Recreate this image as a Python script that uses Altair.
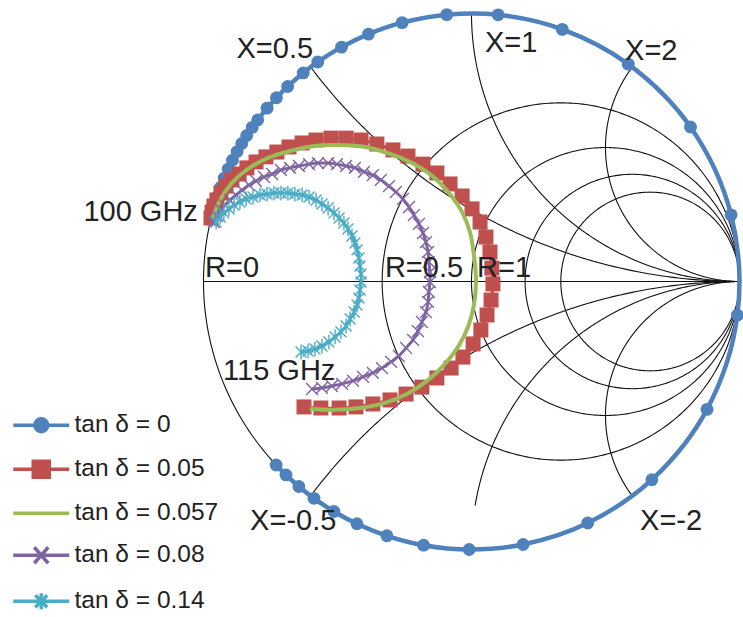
import altair as alt
import numpy as np
import pandas as pd

# ---------------- Smith chart grid (normalised impedance values) ----------------
R_CIRCLES = [0, 0.5, 1, 1.5, 2]
X_ARCS = [0.5, 1, 2, -0.5, -1, -2]
X_ARC_RMIN = [0, 0, 0, 0, 0.18, 0]

# ---------------- series ----------------
SERIES = ["tan δ = 0", "tan δ = 0.05", "tan δ = 0.057", "tan δ = 0.08", "tan δ = 0.14"]
COLORS = ["#4F81BD", "#C0504D", "#9BBB59", "#8064A2", "#4BACC6"]

# tan δ = 0 (lossless): |Γ| = 1, angle of Γ in degrees, 100 GHz -> 115 GHz
BLUE_ANGLE = [165.7, 163.6, 161.5, 159.4, 157.3, 155.2, 153.1, 151.0, 149.0, 147.0,
              144.9, 142.9, 139.7, 136.7, 133.3, 128.9, 125.0, 119.0, 112.6, 105.0,
              95.3, 84.3, 70.2, 54.2, 35.2, 14.4, -7.2, -28.5, -47.7, -64.3,
              -78.9, -90.5, -100.3, -108.4, -115.3, -120.9, -126.0, -130.1, -133.8, -136.8]

RED_RE = [-0.972, -0.968, -0.961, -0.950, -0.935, -0.916, -0.894, -0.867, -0.838, -0.804,
          -0.767, -0.726, -0.681, -0.632, -0.580, -0.524, -0.468, -0.412, -0.353, -0.293,
          -0.237, -0.181, -0.129, -0.080, -0.035, 0.002, 0.032, 0.054, 0.069, 0.076,
          0.080, 0.073, 0.058, 0.035, 0.006, -0.032, -0.076, -0.129, -0.185, -0.244,
          -0.304, -0.368, -0.431, -0.494, -0.562, -0.625]
RED_IM = [0.237, 0.259, 0.282, 0.304, 0.330, 0.356, 0.379, 0.401, 0.424, 0.446,
          0.465, 0.483, 0.502, 0.517, 0.528, 0.535, 0.535, 0.528, 0.513, 0.491,
          0.468, 0.438, 0.405, 0.364, 0.319, 0.271, 0.222, 0.166, 0.110, 0.050,
          -0.009, -0.069, -0.125, -0.181, -0.233, -0.282, -0.323, -0.360, -0.394, -0.420,
          -0.442, -0.457, -0.468, -0.472, -0.472, -0.468]

GREEN_RE = [-0.968, -0.938, -0.894, -0.834, -0.759, -0.677, -0.584, -0.491, -0.397, -0.304,
            -0.222, -0.147, -0.084, -0.035, -0.006, 0.009, 0.017, 0.009, -0.013, -0.050,
            -0.103, -0.166, -0.241, -0.323, -0.416, -0.509, -0.603]
GREEN_IM = [0.229, 0.304, 0.368, 0.420, 0.461, 0.487, 0.506, 0.509, 0.502, 0.476,
            0.442, 0.394, 0.330, 0.259, 0.185, 0.099, -0.002, -0.088, -0.170, -0.244,
            -0.312, -0.371, -0.420, -0.453, -0.472, -0.479, -0.476]

PURPLE_RE = [-0.961, -0.950, -0.935, -0.920, -0.901, -0.879, -0.856, -0.830, -0.804, -0.774,
             -0.744, -0.711, -0.677, -0.644, -0.606, -0.573, -0.535, -0.502, -0.468, -0.435,
             -0.401, -0.368, -0.338, -0.308, -0.282, -0.256, -0.233, -0.215, -0.196, -0.181,
             -0.170, -0.162, -0.159, -0.155, -0.155, -0.159, -0.162, -0.170, -0.185, -0.200,
             -0.218, -0.244, -0.271, -0.300, -0.334, -0.368, -0.405, -0.442, -0.483, -0.521,
             -0.558, -0.595]
PURPLE_IM = [0.222, 0.244, 0.267, 0.285, 0.304, 0.323, 0.341, 0.360, 0.375, 0.390,
             0.401, 0.416, 0.424, 0.431, 0.438, 0.442, 0.442, 0.438, 0.431, 0.424,
             0.409, 0.397, 0.379, 0.356, 0.334, 0.308, 0.278, 0.248, 0.215, 0.181,
             0.147, 0.110, 0.073, 0.035, -0.002, -0.039, -0.076, -0.114, -0.151, -0.185,
             -0.218, -0.248, -0.278, -0.300, -0.323, -0.341, -0.356, -0.371, -0.382, -0.390,
             -0.397, -0.401]

CYAN_RE = [-0.953, -0.938, -0.924, -0.905, -0.886, -0.864, -0.841, -0.815, -0.789, -0.763,
           -0.737, -0.711, -0.685, -0.659, -0.632, -0.606, -0.580, -0.558, -0.535, -0.513,
           -0.494, -0.476, -0.461, -0.446, -0.435, -0.427, -0.420, -0.416, -0.412, -0.412,
           -0.416, -0.420, -0.427, -0.438, -0.453, -0.468, -0.487, -0.509, -0.532, -0.558,
           -0.584, -0.610, -0.636]
CYAN_IM = [0.222, 0.241, 0.256, 0.271, 0.285, 0.297, 0.308, 0.315, 0.323, 0.326,
           0.330, 0.330, 0.330, 0.326, 0.323, 0.315, 0.304, 0.289, 0.274, 0.256,
           0.237, 0.218, 0.196, 0.170, 0.144, 0.118, 0.088, 0.058, 0.028, -0.002,
           -0.032, -0.062, -0.088, -0.114, -0.140, -0.166, -0.188, -0.207, -0.226, -0.241,
           -0.252, -0.259, -0.263]

# annotation labels (text, Γr, Γi of anchor)
LABELS_LEFT = ["X=1", "X=2", "R=0", "R=0.5", "R=1", "115 GHz", "X=-0.5", "X=-2"]
LABELS_LEFT_RE = [0.050, 0.573, -0.994, -0.323, 0.021, -0.927, -0.826, 0.629]
LABELS_LEFT_IM = [0.856, 0.826, 0.017, 0.017, 0.017, -0.368, -0.927, -0.927]
LABELS_RIGHT = ["X=0.5", "100 GHz"]
LABELS_RIGHT_RE = [-0.591, -1.021]
LABELS_RIGHT_IM = [0.834, 0.226]

# ---------------- build tables ----------------
grid_rows = []
t = np.linspace(0, 2 * np.pi, 361)
for k, R in enumerate(R_CIRCLES):
    c, rad = R / (R + 1), 1 / (R + 1)
    for j, tt in enumerate(t):
        grid_rows.append({"curve": f"R{k}", "idx": j, "gr": c + rad * np.cos(tt), "gi": rad * np.sin(tt)})
for k, (X, rmin) in enumerate(zip(X_ARCS, X_ARC_RMIN)):
    rr = np.concatenate([np.linspace(rmin, 3, 300), np.geomspace(3, 1e4, 120)[1:]])
    z = rr + 1j * X
    g = (z - 1) / (z + 1)
    for j, gg in enumerate(g):
        grid_rows.append({"curve": f"X{k}", "idx": j, "gr": gg.real, "gi": gg.imag})
grid_rows.append({"curve": "X0axis", "idx": 0, "gr": -1.0, "gi": 0.0})
grid_rows.append({"curve": "X0axis", "idx": 1, "gr": 1.0, "gi": 0.0})
grid = pd.DataFrame(grid_rows)

blue_rad = np.radians(BLUE_ANGLE)
series_xy = [
    (list(np.cos(blue_rad)), list(np.sin(blue_rad))),
    (RED_RE, RED_IM),
    (GREEN_RE, GREEN_IM),
    (PURPLE_RE, PURPLE_IM),
    (CYAN_RE, CYAN_IM),
]
pts_rows = []
for name, (re, im) in zip(SERIES, series_xy):
    assert len(re) == len(im)
    for j, (a, b) in enumerate(zip(re, im)):
        pts_rows.append({"series": name, "idx": j, "gr": a, "gi": b})
pts = pd.DataFrame(pts_rows)

labels_left = pd.DataFrame({"text": LABELS_LEFT, "gr": LABELS_LEFT_RE, "gi": LABELS_LEFT_IM})
labels_right = pd.DataFrame({"text": LABELS_RIGHT, "gr": LABELS_RIGHT_RE, "gi": LABELS_RIGHT_IM})

# ---------------- scales ----------------
XS = alt.Scale(domain=[-1.7593, 1.0131], nice=False, zero=False)
YS = alt.Scale(domain=[-1.2519, 1.0504], nice=False, zero=False)
X = alt.X("gr:Q", scale=XS, axis=None)
Y = alt.Y("gi:Q", scale=YS, axis=None)

layers = []
layers.append(
    alt.Chart(grid).mark_line(color="#111111", strokeWidth=1.1, opacity=1)
    .encode(x=X, y=Y, detail="curve:N", order="idx:Q")
)

LINE_W = [4.5, 3, 4, 3, 3]
CROSS = "M-1,-1L1,1M-1,1L1,-1"
ASTER = "M-1,-1L1,1M-1,1L1,-1M0,-1.35L0,1.35"
MARKERS = [
    dict(shape="circle", filled=True, size=165),
    dict(shape="square", filled=True, size=225),
    None,
    dict(shape=CROSS, filled=False, size=140, strokeWidth=1.4),
    dict(shape=ASTER, filled=False, size=120, strokeWidth=1.4),
]
for name, col, lw, mk in zip(SERIES, COLORS, LINE_W, MARKERS):
    base = alt.Chart(pts).transform_filter(alt.datum.series == name)
    layers.append(
        base.mark_line(color=col, strokeWidth=lw, interpolate="catmull-rom", opacity=1)
        .encode(x=X, y=Y, order="idx:Q")
    )
    if mk is not None:
        layers.append(base.mark_point(color=col, opacity=1, **mk).encode(x=X, y=Y))

txt = dict(font="Liberation Sans", fontSize=29, color="#222222", baseline="alphabetic")
layers.append(alt.Chart(labels_left).mark_text(align="left", **txt).encode(x=X, y=Y, text="text:N"))
layers.append(alt.Chart(labels_right).mark_text(align="right", **txt).encode(x=X, y=Y, text="text:N"))

# ---------------- legend (line + marker symbols) ----------------
LEG_SHAPES = [
    "M-28,0H28M-6.5,0A6.5,6.5 0 1,0 6.5,0A6.5,6.5 0 1,0 -6.5,0Z",
    "M-28,0H28M-8,-8H8V8H-8Z",
    "M-28,0H28",
    "M-28,0H28M-7,-8L7,8M-7,8L7,-8",
    "M-28,0H28M-6,-6L6,6M-6,6L6,-6M0,-8V8",
]
LEG = alt.Legend(title=None, orient="none", legendX=0, legendY=413, symbolSize=4,
                 symbolStrokeWidth=3.5, labelFontSize=24.5, labelFont="Liberation Sans",
                 labelColor="#222222", rowPadding=15, symbolOffset=29, labelOffset=21,
                 padding=0, labelLimit=400)
legend_df = pd.DataFrame({"series": SERIES})
layers.append(
    alt.Chart(legend_df).mark_point(filled=True, opacity=1, strokeWidth=3.5)
    .encode(
        x=alt.value(-300), y=alt.value(-300),
        fill=alt.Fill("series:N", scale=alt.Scale(domain=SERIES, range=COLORS), legend=LEG),
        stroke=alt.Stroke("series:N", scale=alt.Scale(domain=SERIES, range=COLORS), legend=LEG),
        shape=alt.Shape("series:N", scale=alt.Scale(domain=SERIES, range=LEG_SHAPES), legend=LEG),
    )
)

chart = (
    alt.layer(*layers)
    .properties(width=743, height=617, padding=0, autosize=alt.AutoSizeParams(type="none"),
                background="white")
    .configure_view(stroke=None)
)
chart.save("out.html", embed_options={"renderer": "svg", "actions": False})
